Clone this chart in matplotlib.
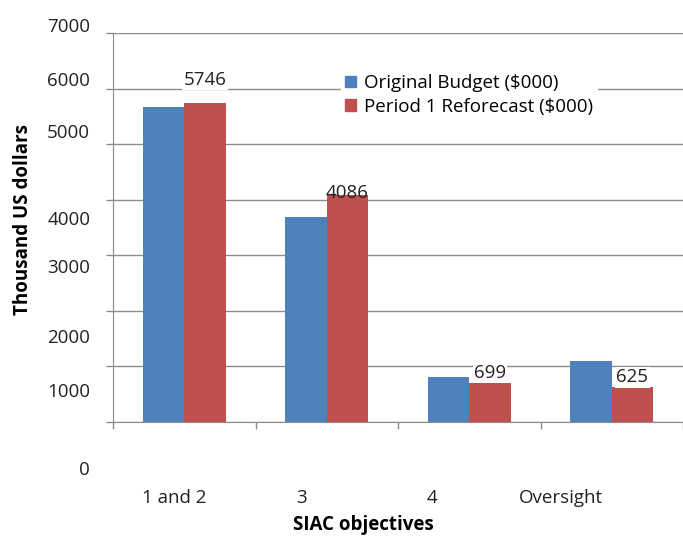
import matplotlib.pyplot as plt
import matplotlib.transforms as mtransforms
from matplotlib.patches import Patch
import numpy as np

plt.rcParams['font.family'] = ['Open Sans', 'DejaVu Sans']

## data
categories = ["1 and 2", "3", "4", "Oversight"]
original_budget = [5665, 3690, 810, 1100]
reforecast = [5746, 4086, 699, 625]
ytick_values = [0, 1000, 2000, 3000, 4000, 5000, 6000, 7000]

# the tick labels in the source sit off their gridlines
ylabel_pos = [-864, 540, 1512, 2771, 3635, 5200, 6136, 7108]
xlabel_shift = [-0.07, -0.18, -0.26, -0.36]
value_label_offset = [23, 2, 10, 10]  # pixels above red bar
value_label_box = [True, False, True, True]

blue = "#4F81BD"
red = "#C0504D"
txt = "#222222"
fs = 13.5

fig = plt.figure(figsize=(6.83, 5.36), dpi=100)
ax = fig.add_axes([113 / 683, (536 - 422) / 536, 570 / 683, (422 - 33) / 536])

x = np.arange(len(categories))
w = 0.29
ax.bar(x - w / 2, original_budget, w, color=blue, zorder=2)
ax.bar(x + w / 2, reforecast, w, color=red, zorder=2)

ax.set_xlim(-0.5, 3.5)
ax.set_ylim(0, 7000)
ax.set_yticks(ytick_values)
ax.set_yticklabels([])
ax.yaxis.grid(True, color="#8c8c8c", linewidth=1, zorder=0)
ax.set_xticks(np.arange(-0.5, 4, 1))
ax.set_xticklabels([])
ax.tick_params(axis="both", length=5, color="#8c8c8c", width=1)

for s in ["top", "right"]:
    ax.spines[s].set_visible(False)
ax.spines["left"].set_color("#8c8c8c")
ax.spines["bottom"].set_color("#8c8c8c")

# y tick labels
trans = mtransforms.blended_transform_factory(ax.transAxes, ax.transData)
for v, pos in zip(ytick_values, ylabel_pos):
    ax.text(-0.04, pos, str(v), transform=trans, ha="right", va="center",
            fontsize=fs, color=txt, clip_on=False)

# x tick labels
for i, name in enumerate(categories):
    ax.annotate(name, (i + xlabel_shift[i], 0), xytext=(0, -76),
                textcoords="offset pixels", ha="center", va="center",
                fontsize=fs, color=txt, annotation_clip=False)

# value labels on red bars
for i, v in enumerate(reforecast):
    box = dict(facecolor="white", edgecolor="none", pad=1) if value_label_box[i] else None
    ax.annotate(str(v), (i + w / 2, v), xytext=(0, value_label_offset[i]),
                textcoords="offset pixels", ha="center", va="center",
                fontsize=fs, color=txt, bbox=box, zorder=3)

ax.set_xlabel("SIAC objectives", fontsize=fs, fontweight="bold")
ax.xaxis.set_label_coords(0.44, -0.238)
ax.set_ylabel("Thousand US dollars", fontsize=fs, fontweight="bold")
ax.yaxis.set_label_coords(-0.14, 0.52)

handles = [Patch(color=blue), Patch(color=red)]
leg = ax.legend(handles, ["Original Budget ($000)", "Period 1 Reforecast ($000)"],
                loc="upper left", bbox_to_anchor=(332 / 683, (536 - 61) / 536),
                bbox_transform=fig.transFigure, frameon=True, fancybox=False,
                fontsize=fs, handlelength=0.6, handleheight=0.6,
                handletextpad=0.4, labelspacing=0.3, borderpad=0.2)
leg.get_frame().set_edgecolor("white")
leg.get_frame().set_facecolor("white")
leg.get_frame().set_alpha(1)

plt.savefig("out.png", dpi=100)
